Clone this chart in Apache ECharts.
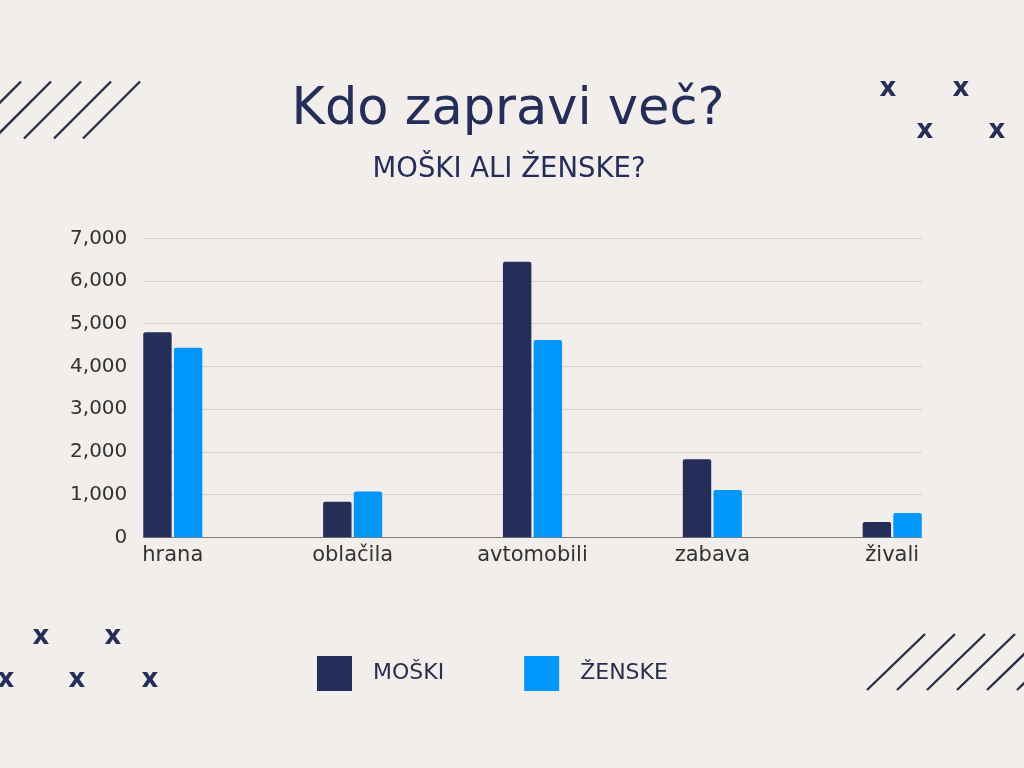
<!DOCTYPE html>
<html>
<head>
<meta charset="utf-8">
<title>Kdo zapravi več?</title>
<script src="https://cdn.jsdelivr.net/npm/echarts@6/dist/echarts.min.js"></script>
<style>
  html, body { margin: 0; padding: 0; background: #f1eeec; }
  #chart { width: 1024px; height: 768px; }
</style>
</head>
<body>
<div id="chart"></div>
<script>
// podatki
const categories = ['hrana', 'oblačila', 'avtomobili', 'zabava', 'živali'];
const moski = [4800, 830, 6450, 1830, 360];
const zenske = [4440, 1070, 4620, 1110, 570];
const yTicks = [0, 1000, 2000, 3000, 4000, 5000, 6000, 7000];

const NAVY = '#252d59';
const BLUE = '#0096fa';
const FONT = '"DejaVu Sans", sans-serif';

// okrasne črte in križci
const deco = [];
const addStripes = (xs, yTop, yBottom, dx) => {
  xs.forEach(x => {
    deco.push({
      type: 'line',
      shape: { x1: x - dx, y1: yBottom, x2: x, y2: yTop },
      style: { stroke: '#2b2f48', lineWidth: 2.4 }
    });
  });
};
addStripes([21, 51, 81, 111, 140], 81.5, 138.5, 57);
addStripes([925, 955, 985, 1015, 1045, 1075], 634, 690, 58);

[[888, 89], [961, 89], [925, 131], [997, 131],
 [41, 637], [113, 637], [6, 680], [77, 680], [150, 680]].forEach(p => {
  deco.push({
    type: 'text',
    x: p[0], y: p[1],
    style: {
      text: 'x', fill: NAVY, font: '900 26px "DejaVu Sans", sans-serif',
      align: 'center', verticalAlign: 'middle'
    }
  });
});

const myChart = echarts.init(document.getElementById('chart'));

const option = {
  backgroundColor: '#f1eeec',
  animation: false,
  title: [
    {
      text: 'Kdo zapravi več?',
      left: 503, top: 80, textAlign: 'center',
      textStyle: { color: NAVY, fontSize: 51, fontWeight: 'normal', fontFamily: FONT }
    },
    {
      text: 'MOŠKI ALI ŽENSKE?',
      left: 504, top: 151, textAlign: 'center',
      textStyle: { color: NAVY, fontSize: 27.5, fontWeight: 'normal', fontFamily: FONT }
    }
  ],
  legend: {
    data: ['MOŠKI', 'ŽENSKE'],
    left: 317, top: 656,
    padding: 0,
    icon: 'rect',
    itemWidth: 35, itemHeight: 35,
    itemGap: 80,
    textStyle: { color: '#2a2f4a', fontSize: 22, fontFamily: FONT, padding: [0, 0, 0, 16] }
  },
  grid: { left: 143.3, right: 102.3, top: 238.3, bottom: 230.7, containLabel: false },
  xAxis: {
    type: 'value',
    min: -0.164,
    max: 4.164,
    axisLine: { show: true, onZero: false, lineStyle: { color: '#7d7b7a', width: 1 } },
    axisTick: { show: false },
    splitLine: { show: false },
    axisLabel: {
      customValues: [0, 1, 2, 3, 4],
      formatter: v => categories[Math.round(v)],
      color: '#333',
      fontSize: 21,
      fontFamily: FONT,
      margin: 8
    }
  },
  yAxis: {
    type: 'value',
    min: yTicks[0],
    max: yTicks[yTicks.length - 1],
    interval: 1000,
    axisLine: { show: false, onZero: false },
    axisTick: { show: false },
    splitLine: { lineStyle: { color: '#d2cfcd', width: 1 } },
    axisLabel: {
      color: '#333',
      fontSize: 20,
      fontFamily: FONT,
      margin: 16,
      formatter: v => v.toLocaleString('en-US')
    }
  },
  series: [
    {
      name: 'MOŠKI',
      type: 'bar',
      data: moski.map((v, i) => [i, v]),
      barWidth: 28.4,
      barGap: '8%',
      itemStyle: { color: NAVY, borderRadius: [2, 2, 0, 0] }
    },
    {
      name: 'ŽENSKE',
      type: 'bar',
      data: zenske.map((v, i) => [i, v]),
      barWidth: 28.4,
      barGap: '8%',
      itemStyle: { color: BLUE, borderRadius: [2, 2, 0, 0] }
    }
  ],
  graphic: deco
};

myChart.setOption(option);

window.addEventListener('resize', () => myChart.resize());
</script>
</body>
</html>
